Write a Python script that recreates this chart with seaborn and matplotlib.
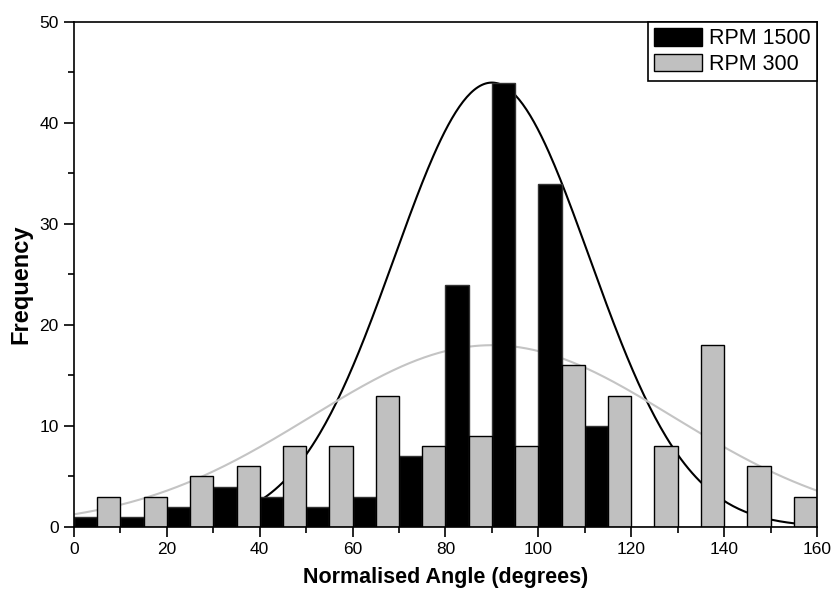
import numpy as np
import matplotlib
matplotlib.use("Agg")
import matplotlib.pyplot as plt
import seaborn as sns
from matplotlib.patches import Patch
from matplotlib.ticker import MultipleLocator

# bin centres (5-degree half-bins) and counts
rpm1500_angle = [2.5, 12.5, 22.5, 32.5, 42.5, 52.5, 62.5, 72.5, 82.5, 92.5,
                 102.5, 112.5, 122.5, 132.5, 142.5, 152.5]
rpm1500_count = [1, 1, 2, 4, 3, 2, 3, 7, 24, 44, 34, 10, 0, 0, 0, 0]

rpm300_angle = [7.5, 17.5, 27.5, 37.5, 47.5, 57.5, 67.5, 77.5, 87.5, 97.5,
                107.5, 117.5, 127.5, 137.5, 147.5, 157.5]
rpm300_count = [3, 3, 5, 6, 8, 8, 13, 8, 9, 8, 16, 13, 8, 18, 6, 3]

# gaussian fit parameters (amplitude, centre, sigma)
fit1500 = (44.0, 90.0, 21.0)
fit300 = (18.0, 90.0, 39.0)

sns.set_style("ticks")
plt.rcParams["font.family"] = ["Liberation Sans", "DejaVu Sans"]

fig = plt.figure(figsize=(8.34, 5.91), dpi=100)
ax = fig.add_axes([0.0887, 0.1083, 0.8909, 0.8545])

xs = np.linspace(0, 160, 400)
for (a, c, s), col in [(fit1500, "black"), (fit300, "#c4c4c4")]:
    sns.lineplot(x=xs, y=a * np.exp(-(xs - c) ** 2 / (2 * s ** 2)), ax=ax,
                 color=col, linewidth=1.5, zorder=1)

sns.barplot(x=rpm1500_angle, y=rpm1500_count, native_scale=True, width=0.5,
            color="black", edgecolor="#333333", linewidth=1, errorbar=None,
            saturation=1, ax=ax, zorder=2)
sns.barplot(x=rpm300_angle, y=rpm300_count, native_scale=True, width=0.5,
            color="#c0c0c0", edgecolor="black", linewidth=1, errorbar=None,
            saturation=1, ax=ax, zorder=2)

ax.set_xlim(0, 160)
ax.set_ylim(0, 50)
ax.xaxis.set_major_locator(MultipleLocator(20))
ax.xaxis.set_minor_locator(MultipleLocator(10))
ax.yaxis.set_major_locator(MultipleLocator(10))
ax.yaxis.set_minor_locator(MultipleLocator(5))
ax.tick_params(which="major", direction="out", length=7, width=1.2,
               labelsize=12.5, colors="black", pad=4)
ax.tick_params(which="minor", direction="out", length=4, width=1.2, colors="black")
for sp in ax.spines.values():
    sp.set_visible(True)
    sp.set_linewidth(1.2)
    sp.set_color("black")

ax.set_xlabel("Normalised Angle (degrees)", fontsize=15.5, fontweight="bold",
              labelpad=7, color="black")
ax.set_ylabel("Frequency", fontsize=17, fontweight="bold", color="black")
ax.yaxis.set_label_coords(-0.056, 0.48)

handles = [Patch(facecolor="black", edgecolor="black", label="RPM 1500"),
           Patch(facecolor="#c0c0c0", edgecolor="black", label="RPM 300")]
leg = ax.legend(handles=handles, loc="upper right", borderaxespad=0,
                fontsize=15.5, fancybox=False, framealpha=1, edgecolor="black",
                handlelength=2.25, handleheight=0.85, handletextpad=0.3,
                labelspacing=0.2, borderpad=0.3)
leg.get_frame().set_linewidth(1.2)
for t in leg.get_texts():
    t.set_color("black")

fig.savefig("out.png", dpi=100)
